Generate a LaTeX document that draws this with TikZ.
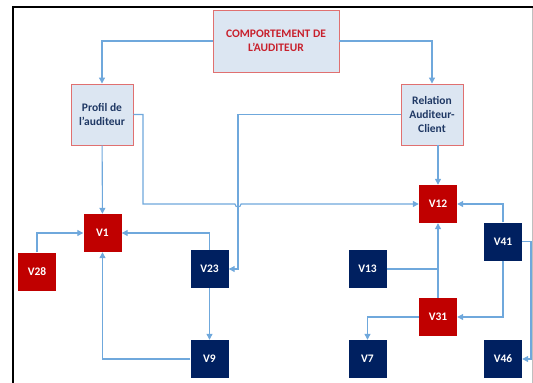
\documentclass[tikz,border=0pt]{standalone}
\usepackage{fontspec}
\setmainfont{Carlito}
\usetikzlibrary{calc,arrows.meta}

\definecolor{boxfill}{HTML}{DCE6F2}
\definecolor{boxline}{HTML}{E07070}
\definecolor{vred}{HTML}{C00000}
\definecolor{vblue}{HTML}{002060}
\definecolor{lnblue}{HTML}{6FA8DC}
\definecolor{titred}{HTML}{C8202C}
\definecolor{navy}{HTML}{1F3864}

\tikzset{
  groupbox/.style={draw=boxline, line width=0.9pt, fill=boxfill, align=center,
    font=\bfseries\fontsize{11.5}{13.8}\selectfont, inner sep=0pt},
  varred/.style={fill=vred, text=white, minimum width=38pt, minimum height=38pt,
    inner sep=0pt, font=\bfseries\fontsize{11.5}{13.8}\selectfont},
  varblue/.style={varred, fill=vblue},
  ln/.style={draw=lnblue, line width=1.1pt},
  arr/.style={ln, -{Triangle[length=6pt,width=6pt]}}
}

\begin{document}
\begin{tikzpicture}[x=1pt,y=-1pt]
      \useasboundingbox (0,0) rectangle (533,383);
      \draw [line width=2pt] (13,383) -- (13,7) -- (533,7);
      \draw [black!25, line width=0.6pt] (532,8) -- (532,383);

      \node[groupbox, text=titred, minimum width=126pt, minimum height=62pt] (CA) at (276,41) {COMPORTEMENT DE\\L'AUDITEUR};

      \node[groupbox, text=navy, minimum width=62pt, minimum height=61pt] (Prof) at (102,114.5) {Profil de\\l'auditeur};
      \node[groupbox, text=navy, minimum width=62pt, minimum height=61pt] (Rel) at (432,114.5) {Relation\\Auditeur-\\Client};

      \node[varred]  (V1)  at (102.5,233) {V1};
      \node[varred]  (V28) at (37,271.5)  {V28};
      \node[varblue] (V23) at (209.5,269) {V23};
      \node[varblue] (V9)  at (209.5,359) {V9};

      \node[varred]  (V12) at (438,204)   {V12};
      \node[varblue] (V41) at (503,241.5) {V41};
      \node[varblue] (V13) at (367.5,269) {V13};
      \node[varred]  (V31) at (438,317)   {V31};
      \node[varblue] (V7)  at (367.5,359) {V7};
      \node[varblue] (V46) at (503,359)   {V46};

      \coordinate (pk) at (143,204);
      \coordinate (hopA) at (235,204);
      \coordinate (hopB) at (241,204);
      \coordinate (rk) at (238,269);
      \coordinate (rr) at (531,359);

      \draw [arr] (CA.west)  -| (Prof.north);
      \draw [arr] (CA.east)  -| (Rel.north);
      \draw [arr] (Prof)     to (V1);
      \draw [arr] (Prof.east) -| (pk) -- (hopA) arc[start angle=180, end angle=360, radius=3pt] -- (hopB) -- (V12.west);
      \draw [arr] (Rel.west) -| (rk) -- (V23.east);
      \draw [arr] (V23.north) |- (V1.east);
      \draw [arr] (V23)      to (V9);
      \draw [arr] (V9.west)  -| (V1.south);
      \draw [arr] (V28.north) |- (V1.west);

      \draw [arr] (V12.north |- Rel.south) -- (V12.north);
      \draw [arr] (V41.north) |- (V12.east);
      \draw [arr] (V41.south) |- (V31.east);
      \draw [arr] (V41.east) -| (rr) -- (V46.east);
      \draw [arr] (V31.north) -- (V12.south);
      \draw [ln]  (V13.east) -- (V13.east -| V31.north);
      \draw [arr] (V31.west) -| (V7.north);
\end{tikzpicture}
\end{document}
